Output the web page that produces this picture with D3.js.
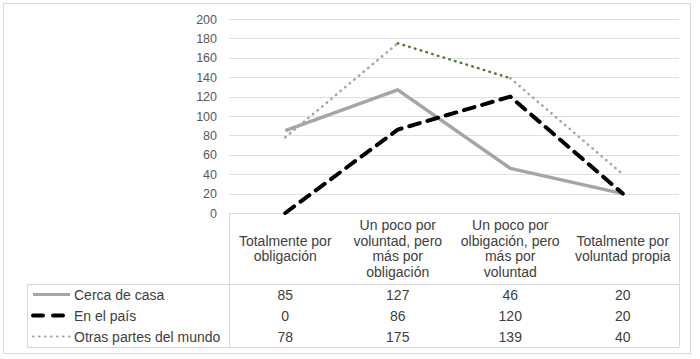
<!DOCTYPE html>
<html>
<head>
<meta charset="utf-8">
<script src="https://cdn.jsdelivr.net/npm/d3@7"></script>
<style>
  body { margin: 0; background: #fff; }
  svg { font-family: "Liberation Sans", Arial, sans-serif; }
</style>
</head>
<body>
<script>
// categories (header lines) and series
var categories = ["Totalmente por obligación", "Un poco por voluntad, pero más por obligación",
                  "Un poco por olbigación, pero más por voluntad", "Totalmente por voluntad propia"];
var categoryLines = [
  ["Totalmente por", "obligación"],
  ["Un poco por", "voluntad, pero", "más por", "obligación"],
  ["Un poco por", "olbigación, pero", "más por", "voluntad"],
  ["Totalmente por", "voluntad propia"]
];
var seriesNames = ["Cerca de casa", "En el país", "Otras partes del mundo"];
var cercaDeCasa = [85, 127, 46, 20];
var enElPais = [0, 86, 120, 20];
var otrasPartes = [78, 175, 139, 40];
var yTicks = [0, 20, 40, 60, 80, 100, 120, 140, 160, 180, 200];

var w = 700, h = 359;
var plotLeft = 229, plotRight = 679, plotTop = 19, plotBottom = 213;
var tableLeft = 27, rowTop = 284, rowH = 21;

var svg = d3.select("body").append("svg")
  .attr("width", w)
  .attr("height", h);

// chart frame
svg.append("rect")
  .attr("x", 3.5).attr("y", 3.5)
  .attr("width", 687).attr("height", 350)
  .attr("fill", "none")
  .attr("stroke", "#d9d9d9");

var x = d3.scaleBand().domain(categories).range([plotLeft, plotRight]).padding(0);
var y = d3.scaleLinear().domain([0, 200]).range([plotBottom, plotTop]);

// gridlines
svg.append("g").selectAll("line")
  .data(yTicks.filter(function(d) { return d > 0; }))
  .enter().append("line")
  .attr("x1", plotLeft).attr("x2", plotRight)
  .attr("y1", function(d) { return Math.round(y(d)) + 0.5; })
  .attr("y2", function(d) { return Math.round(y(d)) + 0.5; })
  .attr("stroke", "#e0e0e0");

// y axis labels
var yAxis = d3.axisLeft(y).tickValues(yTicks).tickSize(0).tickPadding(12);
var gy = svg.append("g").attr("transform", "translate(" + plotLeft + ",0)").call(yAxis);
gy.select(".domain").remove();
gy.selectAll("text")
  .attr("font-size", "12.5px")
  .attr("font-family", "Liberation Sans, Arial, sans-serif")
  .attr("fill", "#595959");

// table lines
var tableBottom = rowTop + rowH * 3;
var tl = svg.append("g").attr("stroke", "#d9d9d9").attr("fill", "none");
tl.append("line").attr("x1", plotLeft).attr("x2", plotRight).attr("y1", plotBottom + 0.5).attr("y2", plotBottom + 0.5);
tl.append("line").attr("x1", tableLeft).attr("x2", plotRight).attr("y1", rowTop + 0.5).attr("y2", rowTop + 0.5);
tl.append("line").attr("x1", tableLeft).attr("x2", plotRight).attr("y1", tableBottom + 0.5).attr("y2", tableBottom + 0.5);
tl.append("line").attr("x1", plotLeft + 0.5).attr("x2", plotLeft + 0.5).attr("y1", plotBottom).attr("y2", tableBottom);
tl.append("line").attr("x1", plotRight + 0.5).attr("x2", plotRight + 0.5).attr("y1", plotBottom).attr("y2", tableBottom);
tl.append("line").attr("x1", tableLeft + 0.5).attr("x2", tableLeft + 0.5).attr("y1", rowTop).attr("y2", tableBottom);

// header text
var header = svg.append("g").selectAll("text")
  .data(categories)
  .enter().append("text")
  .attr("text-anchor", "middle")
  .attr("font-size", "14px")
  .attr("fill", "#404040")
  .attr("x", function(d) { return x(d) + x.bandwidth() / 2; })
  .attr("y", function(d, i) {
    var n = categoryLines[i].length;
    return (plotBottom + rowTop) / 2 - (n - 1) * 15.5 / 2 + 5;
  });
header.each(function(d, i) {
  var t = d3.select(this);
  categoryLines[i].forEach(function(line, j) {
    t.append("tspan")
      .attr("x", x(d) + x.bandwidth() / 2)
      .attr("dy", j === 0 ? 0 : 15.5)
      .text(line);
  });
});

var series = [
  { name: seriesNames[0], values: cercaDeCasa, stroke: "#a5a5a5", width: 3.5, dash: null, cap: "butt" },
  { name: seriesNames[1], values: enElPais, stroke: "#000000", width: 4, dash: "11,8", cap: "round" },
  { name: seriesNames[2], values: otrasPartes, stroke: "#a5a5a5", width: 2.5, dash: "0.5,5.5", cap: "round" }
];

var line = d3.line()
  .x(function(d, i) { return x(categories[i]) + x.bandwidth() / 2; })
  .y(function(d) { return y(d); });

// draw each series; the dotted one segment by segment (its middle segment is green)
series.forEach(function(s, si) {
  var g = svg.append("g");
  if (si === 2) {
    for (var k = 0; k < s.values.length - 1; k++) {
      var seg = s.values.map(function(v, i) { return (i === k || i === k + 1) ? v : null; });
      g.append("path")
        .datum(seg)
        .attr("d", line.defined(function(d) { return d !== null; }))
        .attr("fill", "none")
        .attr("stroke", k === 1 ? "#4f7a28" : s.stroke)
        .attr("stroke-width", s.width)
        .attr("stroke-linecap", s.cap)
        .attr("stroke-dasharray", s.dash);
    }
    line.defined(function() { return true; });
  } else {
    g.append("path")
      .datum(s.values)
      .attr("d", line)
      .attr("fill", "none")
      .attr("stroke", s.stroke)
      .attr("stroke-width", s.width)
      .attr("stroke-linejoin", "round")
      .attr("stroke-linecap", s.cap)
      .attr("stroke-dasharray", s.dash);
  }
});

// data rows
series.forEach(function(s, si) {
  var cy = rowTop + rowH * si + rowH / 2;
  svg.append("line")
    .attr("x1", 33).attr("x2", 70)
    .attr("y1", cy).attr("y2", cy)
    .attr("stroke", s.stroke)
    .attr("stroke-width", si === 1 ? 4 : (si === 2 ? 2.2 : 3))
    .attr("stroke-linecap", s.cap)
    .attr("stroke-dasharray", si === 1 ? "10,10" : (si === 2 ? "0.5,5.5" : null));
  svg.append("text")
    .attr("x", 74).attr("y", cy + 5)
    .attr("font-size", "14px")
    .attr("fill", "#404040")
    .text(s.name);
  svg.append("g").selectAll("text")
    .data(s.values)
    .enter().append("text")
    .attr("text-anchor", "middle")
    .attr("font-size", "14px")
    .attr("fill", "#404040")
    .attr("x", function(d, i) { return x(categories[i]) + x.bandwidth() / 2; })
    .attr("y", cy + 5)
    .text(function(d) { return d; });
});
</script>
</body>
</html>
